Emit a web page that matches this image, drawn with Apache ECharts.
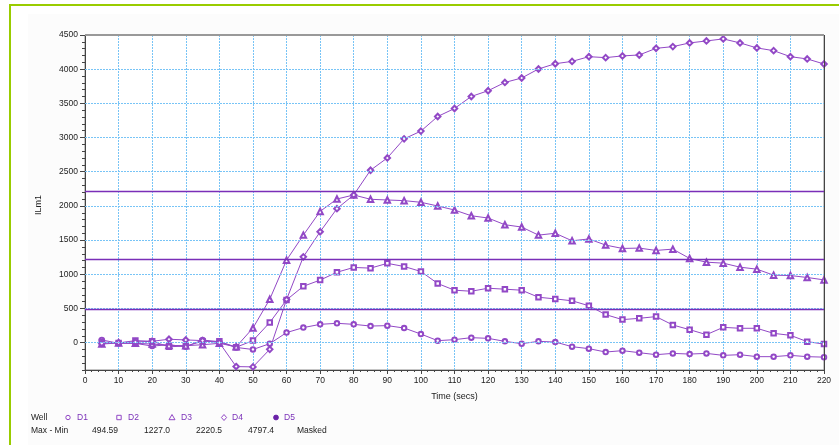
<!DOCTYPE html>
<html>
<head>
<meta charset="utf-8">
<script src="https://cdn.jsdelivr.net/npm/echarts@6/dist/echarts.min.js"></script>
<style>
  html, body { margin: 0; padding: 0; background: #fff; }
  #chart { width: 839px; height: 445px; }
</style>
</head>
<body>
<div id="chart"></div>
<script>
// Sampling times (seconds)
const times = [5, 10, 15, 20, 25, 30, 35, 40, 45, 50, 55, 60, 65, 70, 75, 80, 85, 90, 95, 100,
  105, 110, 115, 120, 125, 130, 135, 140, 145, 150, 155, 160, 165, 170, 175, 180, 185, 190, 195, 200,
  205, 210, 215, 220];

// Well readings (ILm1)
const d1 = [40, -10, -10, -50, -30, -60, 40, 10, -70, -100, -15, 147, 220, 268, 283, 268, 243, 249, 214, 126,
  29, 44, 73, 63, 19, -15, 19, 9, -59, -88, -137, -117, -147, -176, -157, -167, -157, -186, -176, -205,
  -205, -186, -205, -212];
const d2 = [10, -5, 30, 20, -60, -50, 20, 20, -67, 30, 295, 625, 825, 915, 1030, 1100, 1090, 1160, 1114, 1041,
  865, 767, 752, 796, 782, 767, 664, 640, 612, 540, 410, 337, 356, 381, 258, 190, 117, 224, 210, 210,
  136, 107, 15, -21];
const d3 = [-20, -5, -10, -20, -40, -45, -30, -10, -60.5, 214, 635, 1207, 1573, 1920, 2101, 2160, 2097, 2087, 2077, 2053,
  1999, 1940, 1856, 1823, 1725, 1691, 1573, 1600, 1490, 1517, 1427, 1378, 1383, 1349, 1368, 1232, 1177, 1163, 1104, 1075,
  987, 982, 953, 918];
const d4 = [-10, 0, 10, 20, 50, 40, 30, 0, -350, -354.4, -98, 630, 1255, 1622, 1960, 2160, 2522, 2702, 2981, 3094,
  3308, 3425, 3601, 3685, 3806, 3871, 4003, 4080, 4114, 4183, 4169, 4194, 4208, 4305, 4330, 4384, 4413, 4443, 4384, 4311,
  4271, 4183, 4150, 4076];

// Legend table
const wells = ['D1', 'D2', 'D3', 'D4', 'D5'];
const maxMin = ['494.59', '1227.0', '2220.5', '4797.4', 'Masked'];

// Axis ticks
const xTicks = [0, 10, 20, 30, 40, 50, 60, 70, 80, 90, 100, 110, 120, 130, 140, 150, 160, 170, 180, 190, 200, 210, 220];
const yTicks = [0, 500, 1000, 1500, 2000, 2500, 3000, 3500, 4000, 4500];

const Y_MIN = -400, Y_MAX = 4500;
const FONT = '"Liberation Sans", Arial, sans-serif';
const PURPLE = '#9248c6';
const GRID_BLUE = '#78c4f6';

const wellValues = [d1, d2, d3, d4];
const symbols = ['emptyCircle', 'emptyRect', 'emptyTriangle', 'emptyDiamond'];
const symbolSizes = [4.5, 4.5, 5.5, 5.5];

const pairs = (vals) => times.map((t, i) => [t, vals[i]]);

const series = [];

// horizontal dotted grid lines
series.push({
  type: 'line', name: 'grid', data: [], silent: true, z: 1,
  markLine: {
    silent: true, symbol: 'none', label: { show: false },
    lineStyle: { color: GRID_BLUE, type: [2, 1], width: 1 },
    emphasis: { disabled: true },
    data: yTicks.map(v => ({ yAxis: v }))
  }
});

// max - min reference lines (only those inside the axis range)
const rangeLines = maxMin.map(Number).filter(v => !isNaN(v) && v <= Y_MAX);
series.push({
  type: 'line', name: 'range', data: [], silent: true, z: 3,
  markLine: {
    silent: true, symbol: 'none', label: { show: false },
    lineStyle: { color: '#7a2eb8', type: 'solid', width: 1.3 },
    emphasis: { disabled: true },
    data: rangeLines.map(v => ({ yAxis: v }))
  }
});

wellValues.forEach((vals, i) => {
  series.push({
    type: 'line', name: wells[i], data: pairs(vals), z: 4,
    symbol: symbols[i], symbolSize: symbolSizes[i], showAllSymbol: true,
    lineStyle: { color: PURPLE, width: 1 },
    itemStyle: { color: PURPLE, borderColor: PURPLE, borderWidth: 0.9 },
    emphasis: { disabled: true }
  });
});

// legend table drawn under the plot
const legendX = [68, 119, 172, 224, 276];
const textX = [77, 128, 181, 232, 284];
const valX = [92, 144, 196, 248, 297];
const legendY = 417.5, valueY = 430.5;
const graphics = [
  { type: 'rect', shape: { x: 28, y: 14, width: 820, height: 440 }, style: { fill: '#fcfcfc' }, z: -10, silent: true },
  { type: 'rect', shape: { x: 10, y: 5, width: 900, height: 500 }, style: { fill: 'none', stroke: '#99cc00', lineWidth: 2 }, z: 10, silent: true },
  { type: 'line', shape: { x1: 85, y1: 35, x2: 824, y2: 35 }, style: { stroke: '#999', lineWidth: 2 }, z: 10, silent: true },
  { type: 'line', shape: { x1: 824.5, y1: 35, x2: 824.5, y2: 370 }, style: { stroke: '#444', lineWidth: 1 }, z: 10, silent: true },
  { type: 'text', x: 39, y: 205, rotation: Math.PI / 2, style: { text: 'ILm1', font: '9px ' + FONT, fill: '#222', textAlign: 'center', textVerticalAlign: 'middle' } },
  { type: 'text', x: 31, y: legendY, style: { text: 'Well', font: '8.5px ' + FONT, fill: '#222', textVerticalAlign: 'middle' } },
  { type: 'text', x: 31, y: valueY, style: { text: 'Max - Min', font: '8.5px ' + FONT, fill: '#222', textVerticalAlign: 'middle' } }
];
const stroke = { fill: 'none', stroke: PURPLE, lineWidth: 1 };
graphics.push({ type: 'circle', shape: { cx: legendX[0], cy: legendY, r: 2.2 }, style: stroke });
graphics.push({ type: 'rect', shape: { x: legendX[1] - 2.2, y: legendY - 2.2, width: 4.4, height: 4.4 }, style: stroke });
graphics.push({ type: 'polygon', shape: { points: [[legendX[2], legendY - 3], [legendX[2] + 3, legendY + 2.2], [legendX[2] - 3, legendY + 2.2]] }, style: stroke });
graphics.push({ type: 'polygon', shape: { points: [[legendX[3], legendY - 3], [legendX[3] + 2.6, legendY], [legendX[3], legendY + 3], [legendX[3] - 2.6, legendY]] }, style: stroke });
graphics.push({ type: 'circle', shape: { cx: legendX[4], cy: legendY, r: 2.4 }, style: { fill: '#6a22a8', stroke: '#6a22a8' } });
wells.forEach((w, i) => {
  graphics.push({ type: 'text', x: textX[i], y: legendY, style: { text: w, font: '8.5px ' + FONT, fill: '#7a30b8', textVerticalAlign: 'middle' } });
  graphics.push({ type: 'text', x: valX[i], y: valueY, style: { text: maxMin[i], font: '8.5px ' + FONT, fill: '#222', textVerticalAlign: 'middle' } });
});

const option = {
  animation: false,
  backgroundColor: '#ffffff',
  grid: { left: 85, top: 35, right: 15, bottom: 75, show: true, borderColor: '#8a8a8a', borderWidth: 1, backgroundColor: '#ffffff' },
  xAxis: {
    type: 'value', min: xTicks[0], max: xTicks[xTicks.length - 1], interval: 10,
    name: 'Time (secs)', nameLocation: 'middle', nameGap: 22,
    nameTextStyle: { fontFamily: FONT, fontSize: 9, color: '#222' },
    axisLine: { show: true, onZero: false, lineStyle: { color: '#444', width: 1 } },
    axisTick: { show: true, length: 4, lineStyle: { color: '#444' } },
    minorTick: { show: true, splitNumber: 5, length: 2, lineStyle: { color: '#444' } },
    axisLabel: { fontFamily: FONT, fontSize: 8.5, color: '#222', margin: 6 },
    splitLine: { show: true, lineStyle: { color: GRID_BLUE, type: [2, 1], width: 1 } }
  },
  yAxis: [
    {
      type: 'value', min: Y_MIN, max: Y_MAX, interval: 100,
      axisLine: { show: true, onZero: false, lineStyle: { color: '#444', width: 1 } },
      axisTick: { show: true, length: 3, lineStyle: { color: '#444' } },
      axisLabel: {
        fontFamily: FONT, fontSize: 8.5, color: '#222', margin: 7,
        formatter: (v) => (yTicks.indexOf(v) >= 0 ? String(v) : '')
      },
      splitLine: { show: false }
    },
    {
      type: 'value', min: Y_MIN, max: Y_MAX, position: 'left', offset: 0,
      axisLine: { show: false },
      axisTick: { show: true, length: 5, customValues: yTicks, lineStyle: { color: '#444' } },
      axisLabel: { show: false },
      splitLine: { show: false }
    }
  ],
  graphic: graphics,
  series: series
};

const chart = echarts.init(document.getElementById('chart'), null, { renderer: 'canvas' });
chart.setOption(option);
</script>
</body>
</html>
